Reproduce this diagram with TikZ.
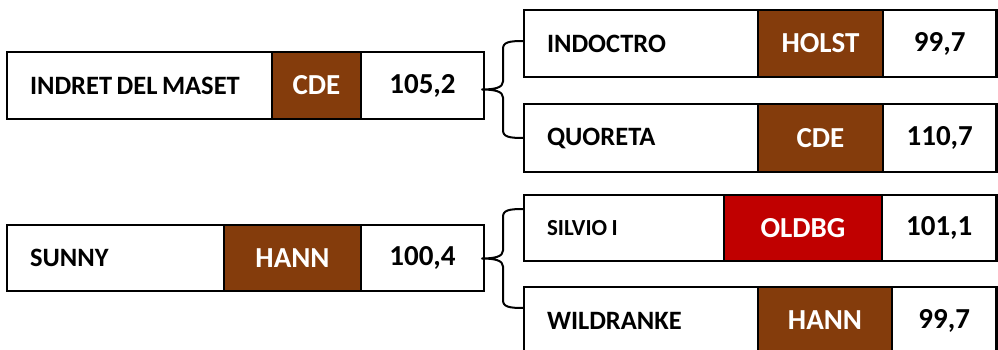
\documentclass[tikz,border=0pt]{standalone}
\usepackage{fontspec}
\setmainfont{Carlito}
\usetikzlibrary{calc}
\definecolor{brownc}{HTML}{843C0C}
\definecolor{redc}{HTML}{C00000}
\tikzset{
  cell/.style={draw=black, line width=2.4pt, outer sep=0pt, inner sep=0pt, anchor=north west, fill=white,
    font=\bfseries\fontsize{29}{32}\selectfont},
  namecell/.style={cell, inner xsep=23pt, align=left, font=\bfseries\fontsize{26.5}{30}\selectfont,
    execute at begin node={\spaceskip=4.5pt\relax}},
  codecell/.style={cell, fill=#1, text=white},
  numcell/.style={cell},
  bracestyle/.style={draw=black, line width=2pt, line join=round}
}
\newcommand{\mybrace}[3]{%
  \draw[bracestyle] let \p1=(#1), \p2=(#2), \p3=(#3), \n1={(\x1+\x3)/2} in
    (\p1) .. controls (\x1-15pt,\y1) and (\n1,\y1-1pt) .. (\n1,\y1-8pt)
    -- (\n1,\y3+8pt) .. controls (\n1,\y3+2pt) and (\n1-8pt,\y3) .. (\p3)
    .. controls (\n1-8pt,\y3) and (\n1,\y3-2pt) .. (\n1,\y3-8pt)
    -- (\n1,\y2+8pt) .. controls (\n1,\y2+1pt) and (\x2-15pt,\y2) .. (\p2);}
\begin{document}
\begin{tikzpicture}[x=1pt,y=1pt]
\useasboundingbox (0,0) rectangle (998,-350);
\clip (0,0) rectangle (998,-350);
% row 1 left
\node[namecell, text width=219pt, minimum height=67pt] (n1name) at (7,-52) {INDRET DEL MASET};
\node[codecell=brownc, minimum width=89pt, minimum height=67pt] (n1code) at (272,-52) {CDE};
\node[numcell, minimum width=123pt, minimum height=67pt] (n1num) at (361,-52) {105,2};
% row 2 left
\node[namecell, text width=171pt, minimum height=66pt] (n2name) at (7,-225) {SUNNY};
\node[codecell=brownc, minimum width=137pt, minimum height=66pt] (n2code) at (224,-225) {HANN};
\node[numcell, minimum width=123pt, minimum height=66pt] (n2num) at (361,-225) {100,4};
% A
\node[namecell, text width=188pt, minimum height=67pt] (aname) at (524,-10) {INDOCTRO};
\node[codecell=brownc, minimum width=125pt, minimum height=67pt] (acode) at (758,-10) {HOLST};
\node[numcell, minimum width=113.5pt, minimum height=67pt] (anum) at (883,-10) {99,7};
% B
\node[namecell, text width=188pt, minimum height=68pt] (bname) at (524,-104) {QUORETA};
\node[codecell=brownc, minimum width=125pt, minimum height=68pt] (bcode) at (758,-104) {CDE};
\node[numcell, minimum width=113.5pt, minimum height=68pt] (bnum) at (883,-104) {110,7};
% C
\node[namecell, text width=154pt, minimum height=66pt, font=\bfseries\fontsize{23}{26}\selectfont] (cname) at (524,-195) {SILVIO I};
\node[codecell=redc, minimum width=158pt, minimum height=66pt] (ccode) at (724,-195) {OLDBG};
\node[numcell, minimum width=114.5pt, minimum height=66pt] (cnum) at (882,-195) {101,1};
% D
\node[namecell, text width=188pt, minimum height=67pt] (dname) at (524,-287) {WILDRANKE};
\node[codecell=brownc, minimum width=134pt, minimum height=67pt] (dcode) at (758,-287) {HANN};
\node[numcell, minimum width=104.5pt, minimum height=67pt] (dnum) at (892,-287) {99,7};
% braces
\coordinate (t1) at ([yshift=2.5pt]aname.west);
\coordinate (b1) at (bname.west);
\coordinate (m1) at ($(t1)!0.5!(b1)$);
\coordinate (p1) at ([xshift=-2pt]n1num.east |- m1);
\mybrace{t1}{b1}{p1}
\coordinate (t2) at ([yshift=-14pt]cname.north west);
\coordinate (b2) at ([yshift=-21pt]dname.north west);
\coordinate (m2) at ($(t2)!0.5!(b2)$);
\coordinate (p2) at ([xshift=-2pt]n2num.east |- m2);
\mybrace{t2}{b2}{p2}
\end{tikzpicture}
\end{document}
